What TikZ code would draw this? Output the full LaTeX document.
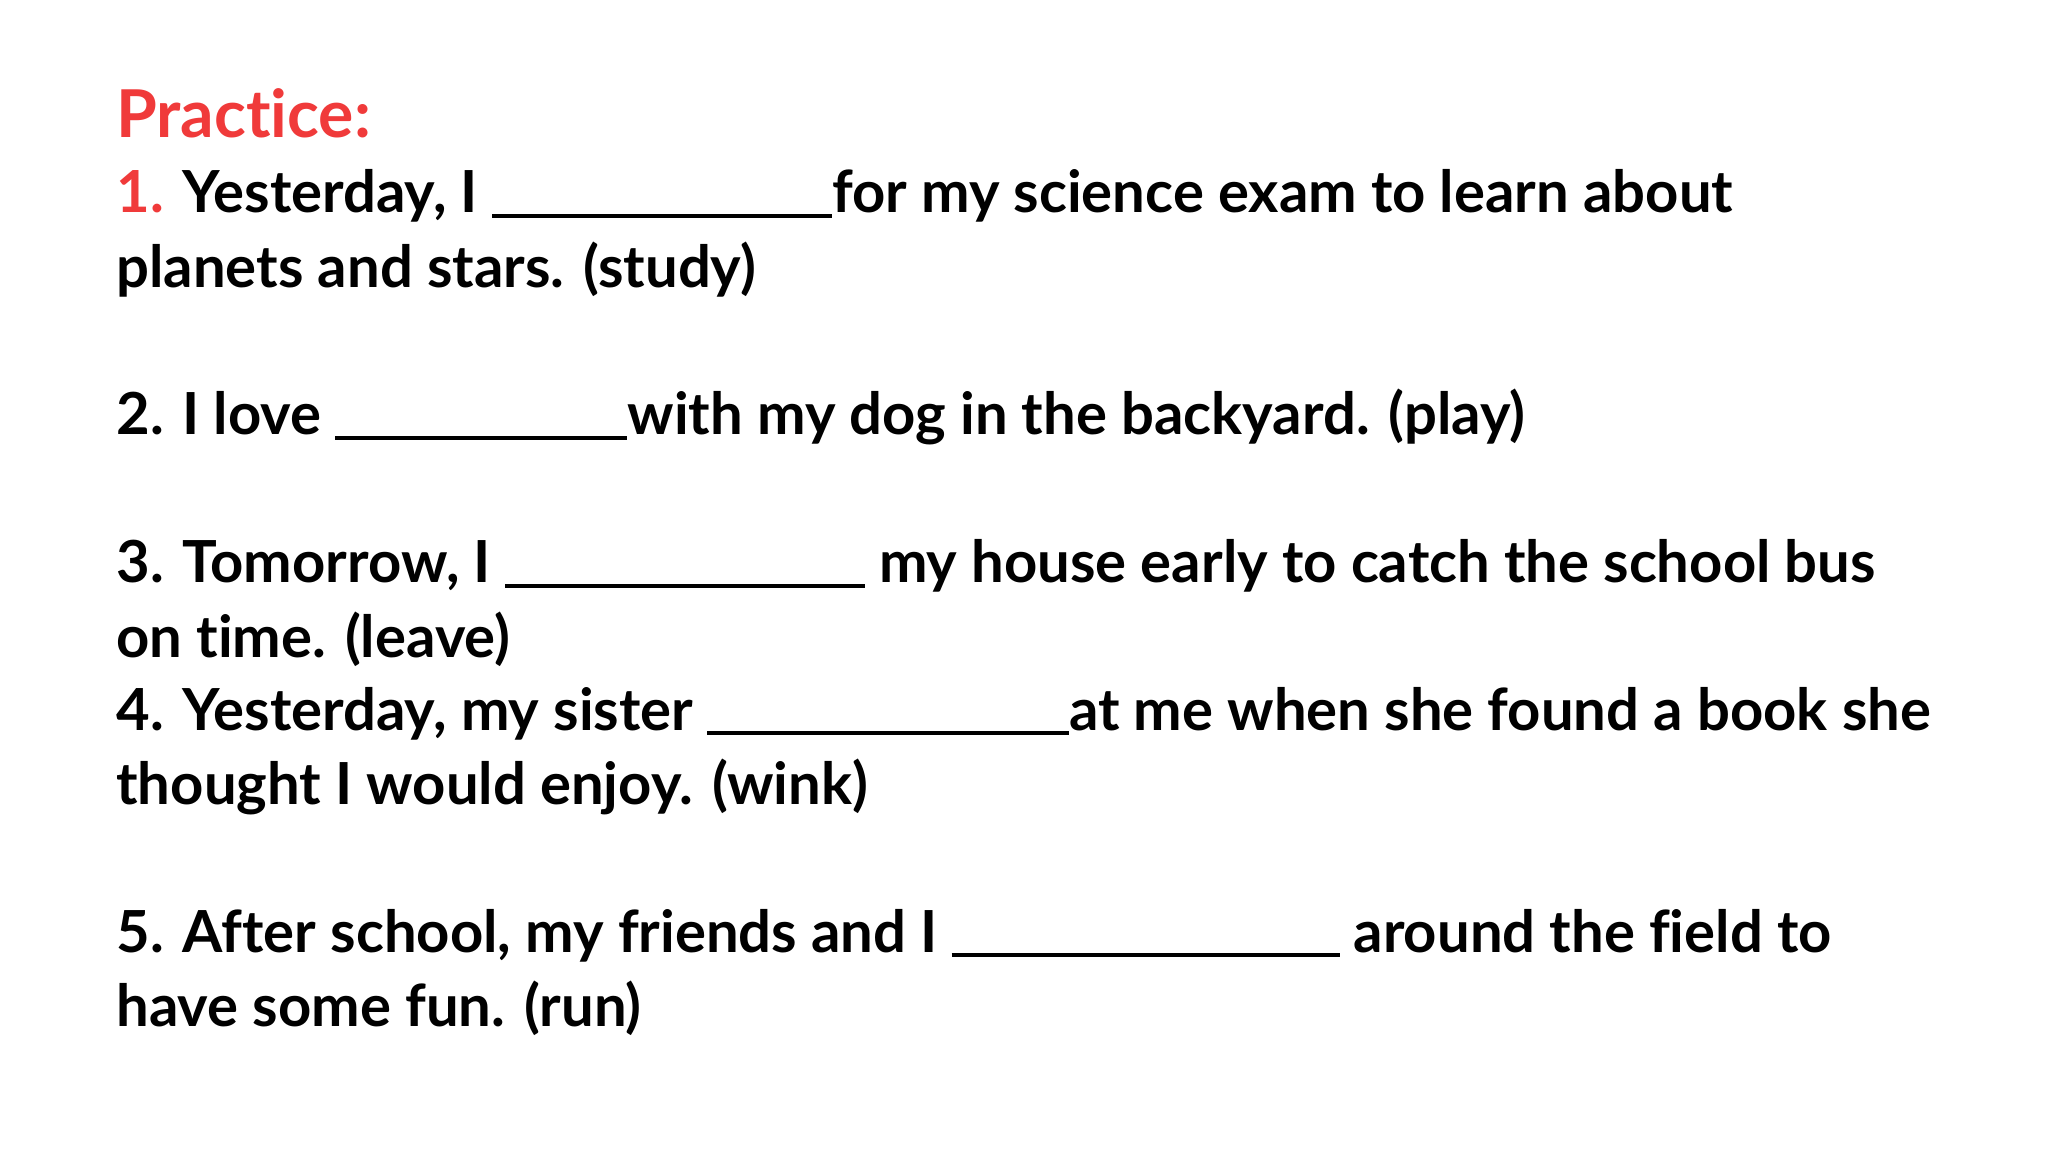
\documentclass[tikz,border=0pt]{standalone}
\usepackage{fontspec}
\setmainfont{Lato}[UprightFont=* Bold,Ligatures=NoCommon]
\definecolor{pred}{HTML}{F03A3A}
\newcommand{\blankline}[1]{\rule[-2.6pt]{#1}{2pt}}
\begin{document}
\begin{tikzpicture}[x=1pt,y=1pt,
  line/.style={anchor=base west,inner sep=0pt,font=\fontsize{29}{34}\selectfont}]
\useasboundingbox[fill=white] (0,0) rectangle (1024,-576);
\node[line,text=pred,font=\fontsize{33}{38}\selectfont] (t) at (58,-68.6) {Practice:};
\node[line] (l1) at (58,-106.4) {\textcolor{pred}{1.} Yesterday, I \blankline{170pt}for my science exam to learn about};
\node[line] (l1b) at (58,-143.7) {planets and stars. (study)};
\node[line] (l2) at (58,-217.4) {2. I love \blankline{146pt}with my dog in the backyard. (play)};
\node[line] (l3) at (58,-291.2) {3. Tomorrow, I \blankline{180pt} my house early to catch the school bus};
\node[line] (l3b) at (58,-328.5) {on time. (leave)};
\node[line] (l4) at (58,-365) {4. Yesterday, my sister \blankline{181pt}at me when she found a book she};
\node[line] (l4b) at (58,-402.3) {thought I would enjoy. (wink)};
\node[line] (l5) at (58,-476) {5. After school, my friends and I \blankline{194pt} around the field to};
\node[line] (l5b) at (58,-513.3) {have some fun. (run)};
\end{tikzpicture}
\end{document}
